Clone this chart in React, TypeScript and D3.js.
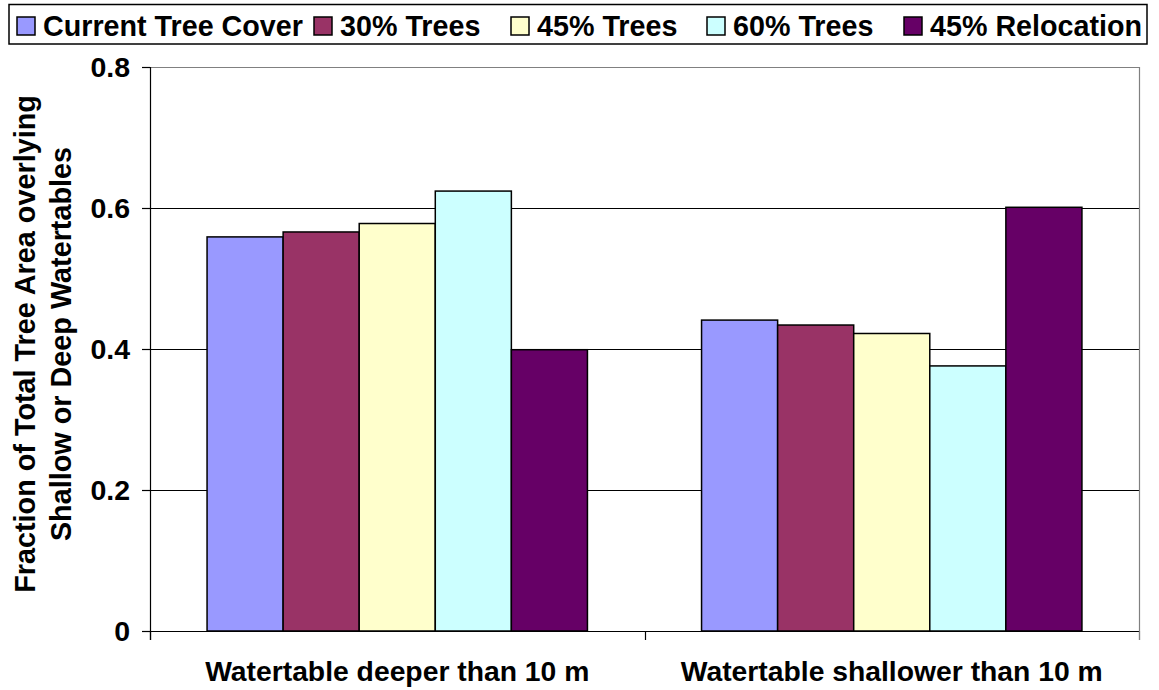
import React from "react";
import * as d3 from "d3";

const categories = ["Watertable deeper than 10 m", "Watertable shallower than 10 m"];
const seriesNames = ["Current Tree Cover", "30% Trees", "45% Trees", "60% Trees", "45% Relocation"];
const seriesColors = ["#9999FF", "#993366", "#FFFFCC", "#CCFFFF", "#660066"];
const deeperValues = [0.559, 0.566, 0.578, 0.624, 0.399];
const shallowerValues = [0.441, 0.434, 0.422, 0.376, 0.601];
const yTicks = [0, 0.2, 0.4, 0.6, 0.8];
const yTickLabels = ["0", "0.2", "0.4", "0.6", "0.8"];
const legendX = [17, 314, 511, 707, 904];

const W = 1159;
const H = 690;
const plot = { left: 150, right: 1139, top: 67, bottom: 631 };
const FONT = "'Liberation Sans', Arial, sans-serif";

export default function App() {
  const values = [deeperValues, shallowerValues];
  const x0 = d3.scaleBand<string>().domain(categories).range([plot.left, plot.right]).padding(0);
  const x1 = d3
    .scaleBand<string>()
    .domain(seriesNames)
    .range([0, x0.bandwidth()])
    .paddingInner(0)
    .paddingOuter(0.75);
  const y = d3.scaleLinear().domain([0, 0.8]).range([plot.bottom, plot.top]);

  const catBoundaries = [plot.left, ...categories.map((c) => (x0(c) as number) + x0.bandwidth())];

  return (
    <div style={{ position: "fixed", left: 0, top: 0, width: W, height: H, background: "#fff" }}>
      <svg width={W} height={H} style={{ display: "block", fontFamily: FONT }}>
        <rect x={0} y={0} width={W} height={H} fill="#fff" />
        {/* gridlines */}
        {yTicks.slice(1).map((t, i) => (
          <line
            key={"g" + i}
            x1={plot.left}
            x2={plot.right}
            y1={Math.round(y(t)) + 0.5}
            y2={Math.round(y(t)) + 0.5}
            stroke={t === 0.8 ? "#808080" : "#000"}
            strokeWidth={1}
          />
        ))}
        {/* right border */}
        <line x1={plot.right + 0.5} x2={plot.right + 0.5} y1={plot.top} y2={plot.bottom + 9} stroke="#808080" strokeWidth={1.2} />
        {/* bars */}
        {categories.map((c, ci) =>
          seriesNames.map((s, si) => {
            const bx = (x0(c) as number) + (x1(s) as number);
            const by = y(values[ci][si]);
            return (
              <rect
                key={c + s}
                x={bx}
                y={by}
                width={x1.bandwidth()}
                height={plot.bottom - by}
                fill={seriesColors[si]}
                stroke="#000"
                strokeWidth={1.5}
              />
            );
          })
        )}
        {/* axes */}
        <line x1={plot.left + 0.5} x2={plot.left + 0.5} y1={plot.top} y2={plot.bottom + 9} stroke="#000" strokeWidth={1.2} />
        <line x1={plot.left} x2={plot.right} y1={plot.bottom + 0.5} y2={plot.bottom + 0.5} stroke="#000" strokeWidth={1.2} />
        {yTicks.map((t, i) => (
          <g key={"t" + i}>
            <line x1={plot.left - 8} x2={plot.left} y1={Math.round(y(t)) + 0.5} y2={Math.round(y(t)) + 0.5} stroke="#000" strokeWidth={1.2} />
            <text x={130} y={y(t) + 10} textAnchor="end" fontSize={28.5} fontWeight="bold" fill="#000">
              {yTickLabels[i]}
            </text>
          </g>
        ))}
        {catBoundaries.map((b, i) => (
          <line key={"xt" + i} x1={Math.round(b) + 0.5} x2={Math.round(b) + 0.5} y1={plot.bottom} y2={plot.bottom + 9} stroke={i === 2 ? "#808080" : "#000"} strokeWidth={1.2} />
        ))}
        {categories.map((c) => (
          <text
            key={"xl" + c}
            x={(x0(c) as number) + x0.bandwidth() / 2}
            y={681}
            textAnchor="middle"
            fontSize={28.3}
            fontWeight="bold"
            fill="#000"
          >
            {c}
          </text>
        ))}
        {/* y title */}
        <g transform="translate(35,344) rotate(-90)">
          <text x={0} y={0} textAnchor="middle" fontSize={28.8} fontWeight="bold" fill="#000">
            Fraction of Total Tree Area overlying
          </text>
          <text x={0} y={36} textAnchor="middle" fontSize={28.8} fontWeight="bold" fill="#000">
            Shallow or Deep Watertables
          </text>
        </g>
        {/* legend */}
        <rect x={9} y={4.5} width={1138} height={39.5} fill="#fff" stroke="#000" strokeWidth={1.5} />
        {seriesNames.map((s, i) => (
          <g key={"l" + s}>
            <rect x={legendX[i]} y={17} width={18} height={18} fill={seriesColors[i]} stroke="#000" strokeWidth={1.5} />
            <text x={legendX[i] + 26} y={35.5} fontSize={28.7} fontWeight="bold" fill="#000">
              {s}
            </text>
          </g>
        ))}
      </svg>
    </div>
  );
}
